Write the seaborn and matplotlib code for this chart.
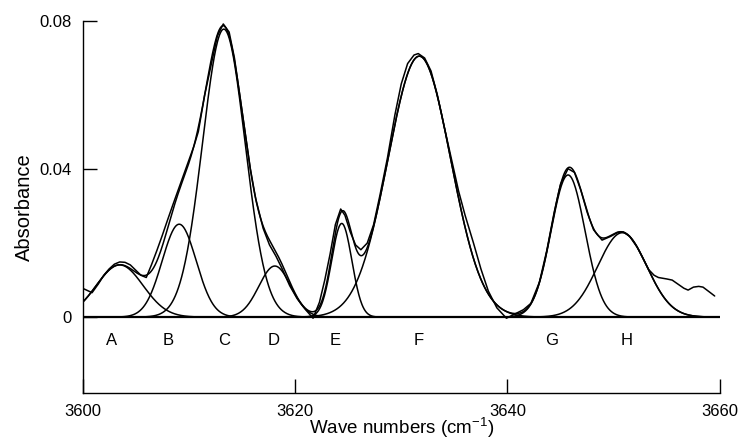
import numpy as np
import pandas as pd
import seaborn as sns
import matplotlib.pyplot as plt

# Band fit components (cm-1, absorbance, gaussian width)
band_labels = ['A', 'B', 'C', 'D', 'E', 'F', 'G', 'H']
band_centres = [3603.5, 3609.1, 3613.3, 3618.1, 3624.4, 3631.7, 3645.7, 3650.8]
band_heights = [0.0141, 0.0251, 0.0778, 0.0138, 0.0253, 0.0705, 0.0384, 0.0228]
band_widths = [2.2, 1.6, 2.0, 1.5, 0.95, 2.95, 1.6, 2.3]
# where the letters sit under the baseline
label_x = [3602.7, 3608.1, 3613.3, 3618.0, 3623.8, 3631.6, 3644.2, 3651.2]

# Measured spectrum, read point by point
spec_x = [3600.0, 3600.9, 3601.5, 3602.0, 3602.5, 3603.0, 3603.5, 3604.0, 3604.5,
          3605.0, 3605.5, 3606.0, 3606.5, 3607.0, 3607.5, 3608.0, 3608.5, 3609.0,
          3609.5, 3610.0, 3610.5, 3610.9, 3611.5, 3612.2, 3612.7, 3613.25, 3613.8,
          3614.3, 3614.8, 3615.3, 3615.8, 3616.3, 3617.0, 3617.6, 3618.2, 3618.8,
          3619.5, 3620.2, 3621.0, 3621.7, 3622.3, 3622.8, 3623.3, 3623.8, 3624.3,
          3624.7, 3625.2, 3625.7, 3626.2, 3626.8, 3627.4, 3628.0, 3628.7, 3629.4,
          3630.0, 3630.6, 3631.2, 3631.6, 3632.2, 3632.8, 3633.4, 3634.0, 3634.7,
          3635.4, 3636.0, 3636.8, 3637.5, 3638.2, 3639.0, 3639.9, 3640.8, 3641.5,
          3642.2, 3643.0, 3643.7, 3644.4, 3645.0, 3645.7, 3646.3, 3646.9, 3647.5,
          3648.1, 3648.9, 3649.7, 3650.4, 3650.9, 3651.5, 3652.2, 3652.8, 3653.3,
          3653.8, 3654.2, 3655.0, 3655.5, 3656.0, 3656.6, 3657.0, 3657.5, 3658.0,
          3658.4, 3659.0, 3659.5]
spec_y = [0.0078, 0.0066, 0.0090, 0.0113, 0.0130, 0.0143, 0.0149, 0.0148, 0.0141,
          0.0127, 0.0113, 0.0107, 0.0142, 0.0180, 0.0220, 0.0262, 0.0303, 0.0343,
          0.0383, 0.0423, 0.0463, 0.0501, 0.0600, 0.0694, 0.0760, 0.0792, 0.0770,
          0.0700, 0.0600, 0.0500, 0.0400, 0.0320, 0.0240, 0.0195, 0.0165, 0.0130,
          0.0085, 0.0050, 0.0020, -0.0003, 0.0040, 0.0100, 0.0170, 0.0250, 0.0292,
          0.0275, 0.0230, 0.0195, 0.0182, 0.0200, 0.0250, 0.0330, 0.0430, 0.0546,
          0.0630, 0.0685, 0.0708, 0.0712, 0.0700, 0.0665, 0.0600, 0.0520, 0.0430,
          0.0340, 0.0276, 0.0200, 0.0130, 0.0070, 0.0025, -0.0003, 0.0010, 0.0020,
          0.0037, 0.0094, 0.0180, 0.0284, 0.0360, 0.0401, 0.0391, 0.0343, 0.0283,
          0.0236, 0.0208, 0.0218, 0.0229, 0.0230, 0.0218, 0.0189, 0.0156, 0.0128,
          0.0113, 0.0107, 0.0103, 0.0100, 0.0090, 0.0078, 0.0073, 0.0081, 0.0083,
          0.0081, 0.0068, 0.0057]

sns.set_theme(style='ticks')
plt.rcParams['font.family'] = ['Liberation Sans', 'DejaVu Sans']
plt.rcParams['mathtext.default'] = 'regular'
plt.rcParams['text.color'] = 'black'
plt.rcParams['axes.labelcolor'] = 'black'

fig = plt.figure(figsize=(7.38, 4.42), dpi=100)
ax = fig.add_axes([0.1118, 0.1109, 0.8638, 0.8416])

# gaussian components and their sum
grid = np.linspace(3600, 3659.5, 1200)
fit = np.zeros_like(grid)
for c, h, w in zip(band_centres, band_heights, band_widths):
    prof = h * np.exp(-(grid - c) ** 2 / (2 * w ** 2))
    fit += prof
    keep = np.abs(grid - c) < 4 * w
    sns.lineplot(x=grid[keep], y=prof[keep], color='black', lw=1.1, ax=ax)

sns.lineplot(x=grid, y=fit, color='black', lw=1.1, ax=ax)
sns.lineplot(x=spec_x, y=spec_y, color='black', lw=1.1, ax=ax, sort=False)

ax.axhline(0, color='black', lw=1.6)

for lab, xl in zip(band_labels, label_x):
    ax.text(xl, -0.0062, lab, ha='center', va='center', fontsize=12, color='black')

ax.set_xlim(3600, 3660)
ax.set_ylim(-0.0205, 0.08)
ax.set_xticks([3600, 3620, 3640, 3660])
ax.set_yticks([0, 0.04, 0.08])
ax.set_yticklabels(['0', '0.04', '0.08'])
ax.tick_params(direction='in', length=10, width=1, labelsize=12, pad=8,
               colors='black', labelcolor='black')
for s in ['top', 'right']:
    ax.spines[s].set_visible(False)
for s in ['left', 'bottom']:
    ax.spines[s].set_color('black')
    ax.spines[s].set_linewidth(1)

ax.set_xlabel('Wave numbers (cm$^{-1}$)', fontsize=13.5, va='top')
ax.xaxis.set_label_coords(0.5, -0.062)
ax.set_ylabel('Absorbance', fontsize=14.5, labelpad=4)

fig.savefig('out.png', dpi=100)
